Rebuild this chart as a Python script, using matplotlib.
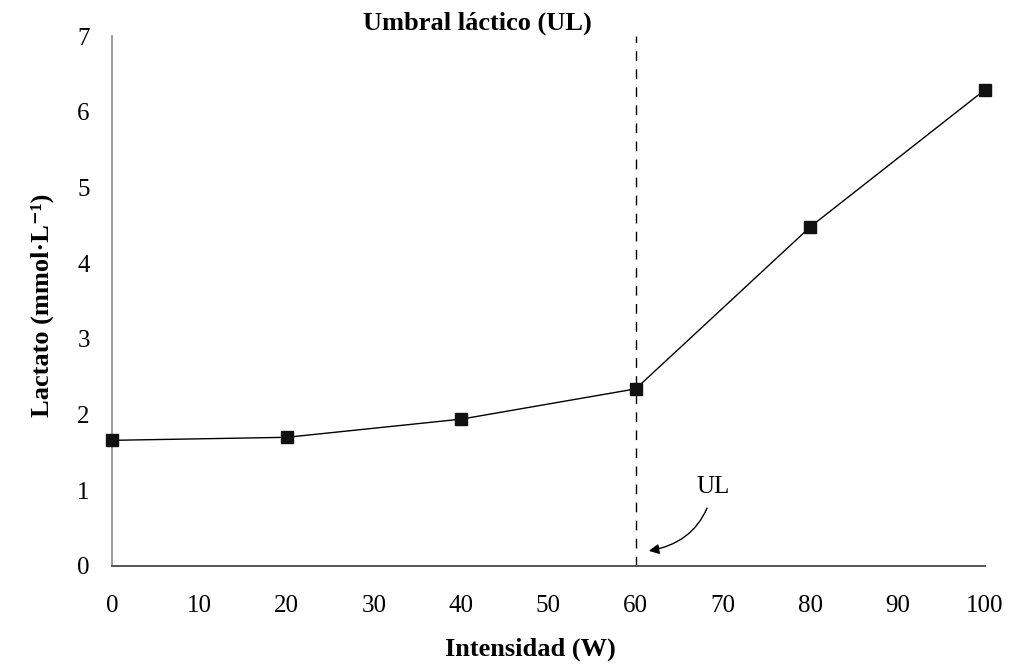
import matplotlib.pyplot as plt

# lactate test: intensity steps and blood lactate
intensity = [0, 20, 40, 60, 80, 100]
lactate = [1.66, 1.70, 1.94, 2.34, 4.48, 6.29]
threshold = 60

x_ticks = list(range(0, 101, 10))
y_ticks = list(range(0, 8))

plt.rcParams['font.family'] = ['Liberation Serif', 'DejaVu Serif']

fig = plt.figure(figsize=(10.28, 6.64), dpi=100)
ax = fig.add_axes([0.109, 0.1476, 0.849, 0.798])

ax.plot(intensity, lactate, c='k', lw=1.0, marker='s', ms=9,
        mfc='#111111', mec='#111111', clip_on=False, zorder=3)

# lactate threshold
ax.plot([threshold, threshold], [0, 7], c='k', lw=1.0, ls=(0, (7, 6)))
ax.annotate("UL", xy=(61.5, 0.2), xytext=(67.0, 1.05),
            fontsize=18, ha='left', va='center',
            arrowprops=dict(arrowstyle='-|>', color='k', lw=1.0,
                            connectionstyle='arc3,rad=-0.35',
                            shrinkA=6, shrinkB=0, mutation_scale=15))

ax.set_xlim(0, 100)
ax.set_ylim(0, 7)
ax.set_xticks(x_ticks)
ax.set_yticks(y_ticks)
ax.tick_params(axis='both', length=0, labelsize=18)
ax.tick_params(axis='x', pad=21)
ax.tick_params(axis='y', pad=16)

for side in ['top', 'right']:
    ax.spines[side].set_visible(False)
ax.spines['left'].set_color('#8a8a8a')
ax.spines['bottom'].set_color('#555555')
ax.spines['left'].set_linewidth(1.2)
ax.spines['bottom'].set_linewidth(1.4)

fig.text(0.464, 0.965, "Umbral láctico (UL)", fontsize=19, fontweight='bold',
         ha='center', va='center')
fig.text(0.516, 0.022, "Intensidad (W)", fontsize=19, fontweight='bold',
         ha='center', va='center')
fig.text(0.041, 0.54, "Lactato (mmol·L⁻¹)", fontsize=19,
         fontweight='bold', rotation=90, ha='center', va='center')

plt.savefig("out.png", dpi=100)
